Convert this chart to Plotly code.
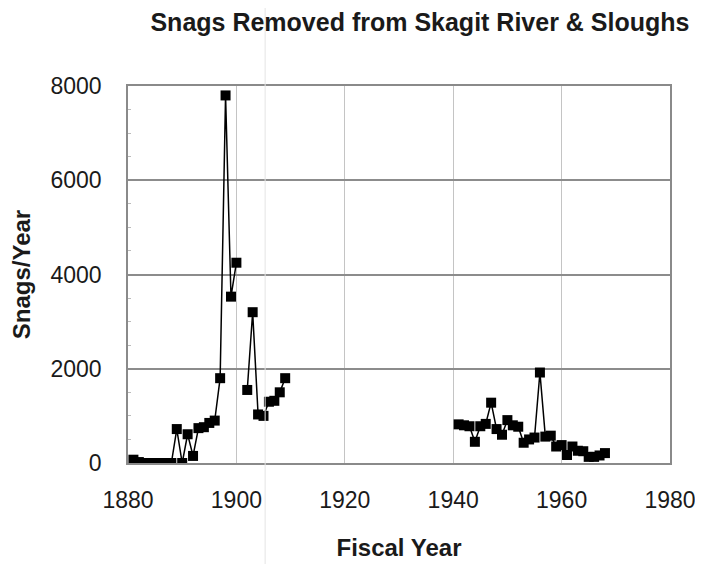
import plotly.graph_objects as go

# fiscal years; None marks a year with no record (breaks the line)
years_early = list(range(1881, 1910))
snags_early = [
    70, 20, 0, 0, 0, 0, 0, 0, 720, 0,
    610, 150, 740, 760, 850, 900, 1800, 7800, 3530, 4250,
    None, 1550, 3200, 1030, 1000, 1300, 1320, 1500, 1800,
]

years_late = list(range(1941, 1969))
snags_late = [
    820, 800, 780, 450, 780, 830, 1280, 720, 600, 910,
    800, 770, 430, 500, 540, 1920, 560, 580, 350, 380,
    170, 350, 260, 250, 130, 130, 160, 210,
]

years = years_early + [1925] + years_late
snags = snags_early + [None] + snags_late

fig = go.Figure()

fig.add_trace(
    go.Scatter(
        x=years,
        y=snags,
        mode="lines+markers",
        line=dict(color="black", width=1.5),
        marker=dict(symbol="square", size=10, color="black"),
        connectgaps=False,
        showlegend=False,
    )
)

# faint scanner streak seen in the original
fig.add_shape(
    type="line", xref="paper", yref="paper",
    x0=0.253, x1=0.253, y0=-0.3, y1=1.25,
    line=dict(color="#e4e4e4", width=1),
)

# the page body has an 8px margin, so margins are shifted to compensate
fig.update_layout(
    width=703,
    height=564,
    margin=dict(l=120, r=41, t=78, b=109),
    paper_bgcolor="white",
    plot_bgcolor="white",
    font=dict(family="Liberation Sans, Arial, sans-serif", size=23, color="#1a1a1a"),
    title=dict(
        text="<b>Snags Removed from Skagit River &amp; Sloughs</b>",
        x=0.586,
        xanchor="center",
        y=0.975,
        yanchor="middle",
        font=dict(size=25, color="#1a1a1a"),
    ),
    xaxis=dict(
        range=[1880, 1980],
        dtick=20,
        tick0=1880,
        showgrid=True,
        gridcolor="#c4c4c4",
        gridwidth=1,
        showline=True,
        linecolor="#8a8a8a",
        linewidth=1.5,
        mirror=True,
        ticks="",
        ticklabelstandoff=16,
        zeroline=False,
        title=dict(text="<b>Fiscal Year</b>", standoff=27, font=dict(size=24)),
    ),
    yaxis=dict(
        range=[0, 8000],
        dtick=2000,
        showgrid=True,
        gridcolor="#8c8c8c",
        gridwidth=1.5,
        showline=True,
        linecolor="#8a8a8a",
        linewidth=1.5,
        mirror=True,
        ticks="",
        ticklabelstandoff=20,
        zeroline=False,
        minor=dict(ticks="inside", dtick=500, ticklen=3, tickcolor="#bbbbbb", showgrid=False),
        title=dict(text="<b>Snags/Year</b>", standoff=14, font=dict(size=24)),
    ),
)

fig.write_html("out.html")
